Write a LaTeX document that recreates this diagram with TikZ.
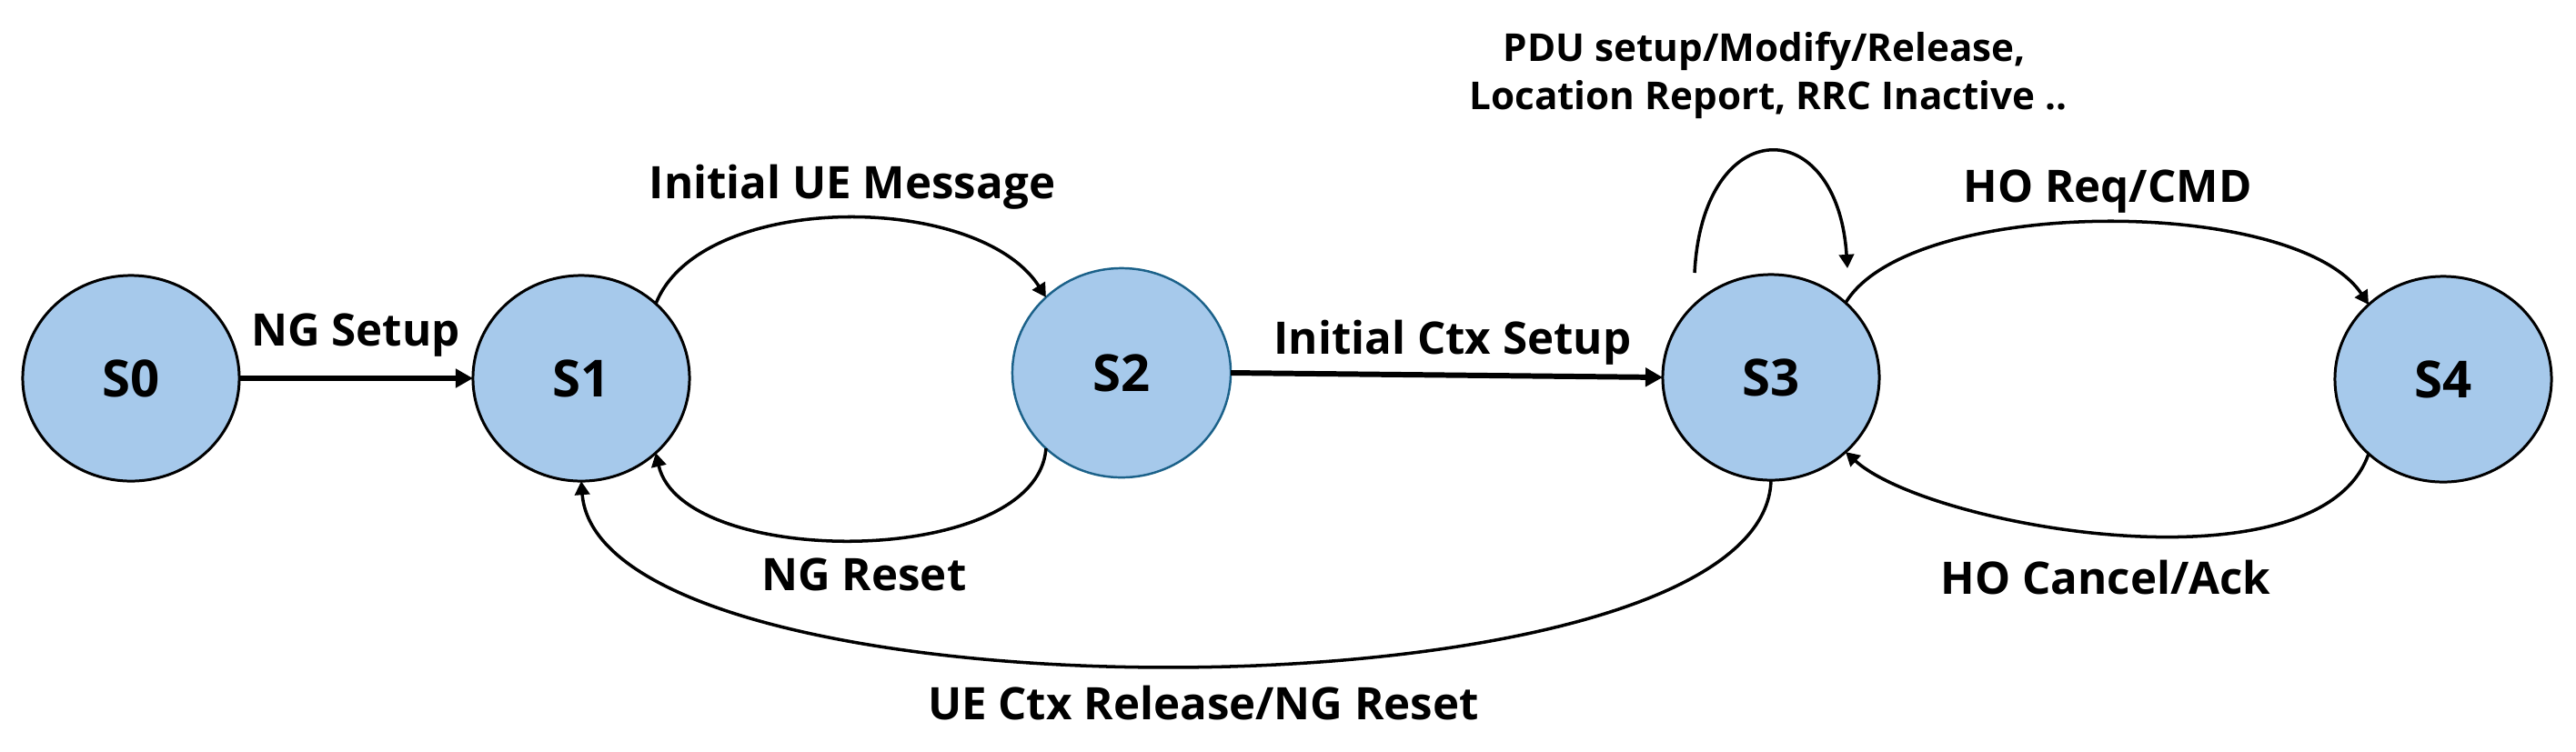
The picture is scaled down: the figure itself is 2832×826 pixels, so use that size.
\documentclass[tikz,border=0pt]{standalone}
\usepackage{fontspec}
\setmainfont{Open Sans}
\usetikzlibrary{arrows.meta,shapes.geometric}
\definecolor{nodefill}{HTML}{A6C9EB}
\definecolor{tealborder}{HTML}{1B6189}
\begin{document}
\begin{tikzpicture}[x=0.01cm,y=-0.01cm,
  state/.style={ellipse, draw=black, line width=0.85pt, fill=nodefill,
    minimum width=2.38cm, minimum height=2.26cm, inner sep=0pt, outer sep=0pt,
    font=\fontsize{16}{19}\selectfont\bfseries},
  lbl/.style={font=\fontsize{14}{17}\selectfont\bfseries, inner sep=0pt, anchor=base},
  smalllbl/.style={font=\fontsize{12}{14}\selectfont\bfseries, inner sep=0pt, anchor=base},
  thickarrow/.style={line width=1.7pt, -{Triangle[length=5.4pt,width=5.7pt]}},
  curvearrow/.style={line width=1pt, -{Triangle[length=4.3pt,width=4.6pt]}}]
\useasboundingbox (0,0) rectangle (2832,826);
\fill[white] (0,0) rectangle (2832,826);

\node[state] (S0) at (144,416) {S0};
\node[state] (S1) at (639,416) {S1};
\node[state, draw=tealborder, line width=0.7pt, minimum width=2.40cm, minimum height=2.30cm] (S2) at (1233,410) {S2};
\node[state] (S3) at (1947,415) {S3};
\node[state] (S4) at (2686,417) {S4};

\draw[thickarrow] (S0.east) -- (S1.west);
\draw[curvearrow] (S1.45) .. controls (770,210) and (1075,210) .. (S2.135);
\draw[curvearrow] (S2.225) .. controls (1140,626) and (750,626) .. (S1.-45);
\draw[thickarrow] (S2.east) -- (S3.west);
\coordinate (L1) at (1863,300);
\coordinate (L2) at (2031,295);
\draw[curvearrow] (L1) .. controls (1872,123) and (2020,123) .. (L2);
\draw[curvearrow] (S3.45) .. controls (2100,215) and (2524,215) .. (S4.135);
\draw[curvearrow] (S4.225) .. controls (2550,655) and (2120,580) .. (S3.-45);
\draw[curvearrow] (S3.south) .. controls (1940,800) and (660,800) .. (S1.south);

\node[lbl] (t1) at (391,380) {NG Setup};
\node[lbl] (t2) at (937,218) {Initial UE Message};
\node[lbl] (t3) at (950,649) {NG Reset};
\node[lbl] (t4) at (1597,389) {Initial Ctx Setup};
\node[smalllbl] (t5) at (1940,67) {PDU setup/Modify/Release,};
\node[smalllbl] (t6) at (1944,120) {Location Report, RRC Inactive ..};
\node[lbl] (t7) at (2317,222) {HO Req/CMD};
\node[lbl] (t8) at (2315,653) {HO Cancel/Ack};
\node[lbl] (t9) at (1323,791) {UE Ctx Release/NG Reset};
\end{tikzpicture}
\end{document}
